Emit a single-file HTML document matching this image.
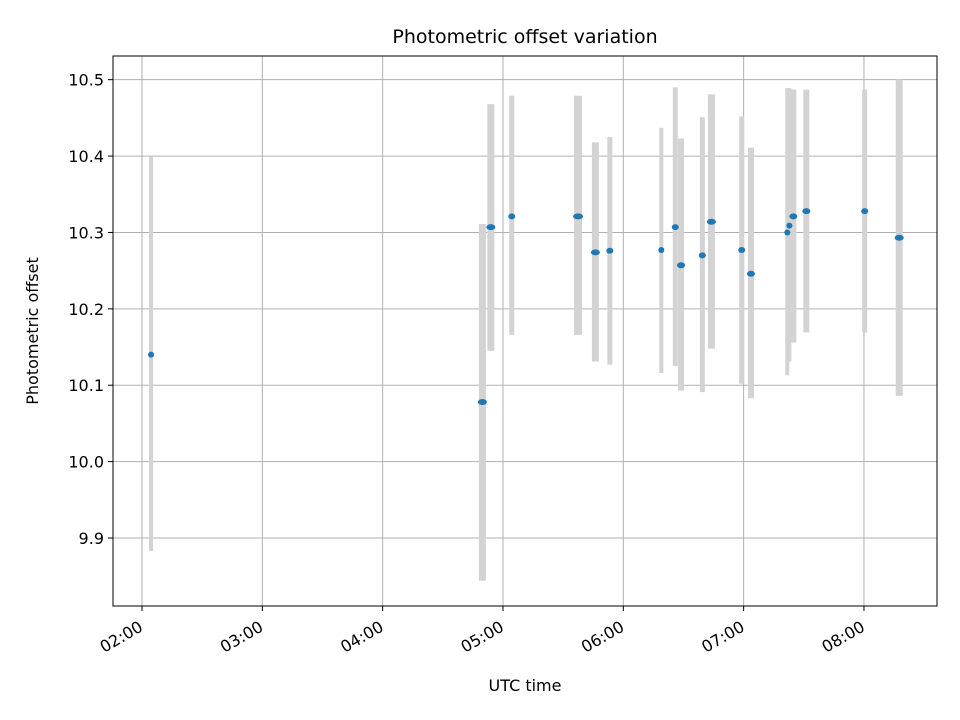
<!DOCTYPE html>
<html><head><meta charset="utf-8"><style>
body{margin:0;background:#fff}
svg{display:block;font-family:"DejaVu Sans","Liberation Sans",sans-serif}
</style></head><body>
<svg id="chart" width="960" height="720" viewBox="0 0 960 720" xmlns="http://www.w3.org/2000/svg">
<rect width="960" height="720" fill="#fff"/>
<g id="grid"></g>
<g id="bars"></g>
<g id="pts"></g>
<rect x="113" y="56" width="824" height="550" fill="none" stroke="#000" stroke-width="1"/>
<g id="axes"></g>
<text x="525" y="43" font-size="19" text-anchor="middle">Photometric offset variation</text>
<text x="525" y="691" font-size="16" text-anchor="middle">UTC time</text>
<text transform="translate(38,331) rotate(-90)" font-size="16" text-anchor="middle">Photometric offset</text>
</svg>
<script>
const timesH = [2.075,4.829,4.899,5.073,5.624,5.768,5.888,6.316,6.432,6.480,6.657,6.732,6.984,7.061,7.363,7.380,7.413,7.521,8.006,8.293];
const offsets = [10.140,10.078,10.307,10.321,10.321,10.274,10.276,10.277,10.307,10.257,10.270,10.314,10.277,10.246,10.300,10.309,10.321,10.328,10.328,10.293];
const upper = [10.399,10.311,10.468,10.479,10.479,10.418,10.425,10.437,10.490,10.423,10.451,10.481,10.452,10.411,10.489,10.489,10.487,10.487,10.487,10.500];
const lower = [9.883,9.844,10.145,10.166,10.166,10.131,10.127,10.116,10.125,10.093,10.091,10.148,10.102,10.083,10.113,10.131,10.156,10.169,10.169,10.086];
const weights = [4,7,7,5,8,7,5,4,5,6,5,7,5,6,4,4,6,6,5,7];
const xTicks = [2,3,4,5,6,7,8];
const xTickLabels = ["02:00","03:00","04:00","05:00","06:00","07:00","08:00"];
const yTicks = [9.9,10.0,10.1,10.2,10.3,10.4,10.5];
const yTickLabels = ["9.9","10.0","10.1","10.2","10.3","10.4","10.5"];

const L=113,R=937,T=56,B=606;
const xMin=1.759,xMax=8.607,yMin=9.811,yMax=10.531;
const X=h=>L+(h-xMin)/(xMax-xMin)*(R-L);
const Y=v=>B-(v-yMin)/(yMax-yMin)*(B-T);
const NS="http://www.w3.org/2000/svg";
function mk(tag,attrs,parent){const e=document.createElementNS(NS,tag);for(const k in attrs)e.setAttribute(k,attrs[k]);parent.appendChild(e);return e;}
const grid=document.getElementById('grid'),axes=document.getElementById('axes'),bars=document.getElementById('bars'),pts=document.getElementById('pts');

xTicks.forEach((t,i)=>{const x=X(t);
 const g=mk('line',{x1:x,x2:x,y1:T,y2:B,stroke:'#b0b0b0','stroke-width':1},grid);
 
 
 const tk=mk('line',{x1:x,x2:x,y1:B,y2:B+5,stroke:'#000'},axes);
 
 
 const tx=mk('text',{'font-size':16,'text-anchor':'end',transform:`translate(${x+2},${B+24}) rotate(-30)`},axes);
 tx.textContent=xTickLabels[i];
 
 
});
yTicks.forEach((t,i)=>{const y=Y(t);
 const g=mk('line',{x1:L,x2:R,y1:y,y2:y,stroke:'#b0b0b0','stroke-width':1},grid);
 
 
 const tk=mk('line',{x1:L-5,x2:L,y1:y,y2:y,stroke:'#000'},axes);
 
 
 const tx=mk('text',{x:L-9,y:y+6,'font-size':16,'text-anchor':'end'},axes);
 tx.textContent=yTickLabels[i];
 
 
});
timesH.forEach((h,i)=>{const x=X(h);
 const b=mk('line',{x1:x,x2:x,y1:Y(upper[i]),y2:Y(lower[i]),stroke:'#d3d3d3','stroke-width':weights[i]},bars);
 
 
 const p=mk('ellipse',{cx:x,cy:Y(offsets[i]),rx:Math.max(3,weights[i]/2+1),ry:3,fill:'#1f77b4'},pts);
 
 
});
</script>
</body></html>
